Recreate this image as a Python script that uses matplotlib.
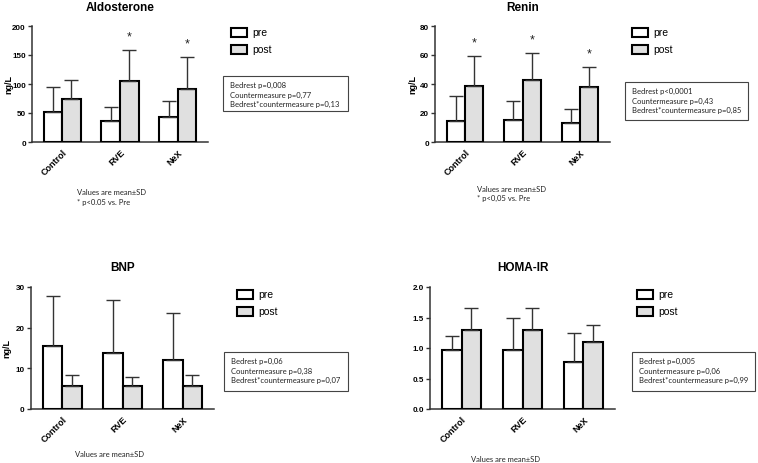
import matplotlib
matplotlib.use("Agg")
import matplotlib.pyplot as plt
from matplotlib.patches import Rectangle
import numpy as np

categories = ["Control", "RVE", "NeX"]

aldo_pre = [52, 36, 43]
aldo_pre_sd = [42, 25, 28]
aldo_post = [75, 105, 92]
aldo_post_sd = [32, 54, 55]

renin_pre = [14.6, 15.5, 12.8]
renin_pre_sd = [17.2, 12.6, 10.2]
renin_post = [38.9, 43.0, 38.0]
renin_post_sd = [20.5, 18.7, 13.9]

bnp_pre = [15.4, 13.7, 12.1]
bnp_pre_sd = [12.4, 13.1, 11.6]
bnp_post = [5.7, 5.6, 5.7]
bnp_post_sd = [2.6, 2.3, 2.6]

homa_pre = [0.96, 0.97, 0.77]
homa_pre_sd = [0.24, 0.52, 0.48]
homa_post = [1.29, 1.29, 1.10]
homa_post_sd = [0.37, 0.37, 0.28]

aldo_stars = [False, True, True]
renin_stars = [True, True, True]

aldo_stats = ["Bedrest p=0,008", "Countermeasure p=0,77", "Bedrest*countermeasure p=0,13"]
renin_stats = ["Bedrest p<0,0001", "Countermeasure p=0,43", "Bedrest*countermeasure p=0,85"]
bnp_stats = ["Bedrest p=0,06", "Countermeasure p=0,38", "Bedrest*countermeasure p=0,07"]
homa_stats = ["Bedrest p=0,005", "Countermeasure p=0,06", "Bedrest*countermeasure p=0,99"]

W, H = 758, 464
fig = plt.figure(figsize=(W / 100, H / 100), dpi=100)

BOLD = "Liberation Sans"
SMALL = "Lato"
POST_COLOR = "#e0e0e0"
AX_COLOR = "#333333"


def fx(x):
    return x / W


def fy(y):
    return 1 - y / H


def panel(box, title, pre, pre_sd, post, post_sd, ylim, yticks, yticklabels,
          stars, stats, legend_xy, stats_box, notes, notes_xy, title_y, ylabel_x):
    x0, y0, x1, y1 = box
    ax = fig.add_axes([fx(x0), fy(y1), (x1 - x0) / W, (y1 - y0) / H])
    x = np.arange(len(categories))
    bw = 0.32
    ax.bar(x - bw / 2, pre, bw, color="white", edgecolor="black", linewidth=1.5,
           yerr=[np.zeros(len(pre)), pre_sd],
           error_kw=dict(ecolor=AX_COLOR, elinewidth=1.0, capsize=5, capthick=1.0),
           zorder=3)
    ax.bar(x + bw / 2, post, bw, color=POST_COLOR, edgecolor="black", linewidth=1.5,
           yerr=[np.zeros(len(post)), post_sd],
           error_kw=dict(ecolor=AX_COLOR, elinewidth=1.0, capsize=5, capthick=1.0),
           zorder=3)
    if stars is not None:
        for i, s in enumerate(stars):
            if s:
                ax.annotate("*", (x[i] + bw / 2, post[i] + post_sd[i]),
                            xytext=(0, 5), textcoords="offset points",
                            ha="center", va="bottom", fontsize=9,
                            family=BOLD, color="#222222")
    ax.set_xlim(-0.52, 2.52)
    ax.set_ylim(*ylim)
    ax.set_yticks(yticks)
    ax.set_yticklabels(yticklabels, fontsize=5.8, family=BOLD, fontweight="bold")
    ax.set_xticks(x)
    ax.set_xticklabels(categories, rotation=45, ha="right", rotation_mode="anchor",
                       fontsize=6.5, family=BOLD, fontweight="bold")
    ax.tick_params(axis="x", length=0, pad=4)
    ax.tick_params(axis="y", length=3, width=1.0, color=AX_COLOR, pad=1.5)
    for sp in ["top", "right"]:
        ax.spines[sp].set_visible(False)
    for sp in ["left", "bottom"]:
        ax.spines[sp].set_color(AX_COLOR)
        ax.spines[sp].set_linewidth(1.1)
    if ylabel_x is not None:
        fig.text(fx(ylabel_x), fy((y0 + y1) / 2), "ng/L", rotation=90,
                 ha="center", va="center", fontsize=6.5, family=BOLD,
                 fontweight="bold")
    fig.text(fx((x0 + x1) / 2), fy(title_y), title, ha="center", va="center",
             fontsize=8.5, family=BOLD, fontweight="bold")
    # legend
    lx, ly = legend_xy
    for j, (lab, col) in enumerate([("pre", "white"), ("post", POST_COLOR)]):
        yy = ly + j * 16.5
        fig.patches.append(Rectangle((fx(lx), fy(yy + 9)), 16 / W, 9 / H,
                                     transform=fig.transFigure, facecolor=col,
                                     edgecolor="black", linewidth=1.5))
        fig.text(fx(lx + 21), fy(yy + 4.5), lab, ha="left", va="center",
                 fontsize=7.5, family=BOLD)
    # stats box
    bx0, by0, bx1, by1 = stats_box
    fig.patches.append(Rectangle((fx(bx0), fy(by1)), (bx1 - bx0) / W, (by1 - by0) / H,
                                 transform=fig.transFigure, facecolor="white",
                                 edgecolor="#444444", linewidth=0.8))
    for k, line in enumerate(stats):
        fig.text(fx(bx0 + 7), fy(by0 + 8.5 + k * 9.5), line, ha="left", va="center",
                 fontsize=5.5, family=SMALL, color="#222222")
    nx, ny = notes_xy
    for k, line in enumerate(notes):
        fig.text(fx(nx), fy(ny + k * 9.5), line, ha="left", va="center",
                 fontsize=5.5, family=SMALL, color="#222222")
    return ax


panel((32, 27, 208, 143), "Aldosterone", aldo_pre, aldo_pre_sd, aldo_post, aldo_post_sd,
      (0, 200), [0, 50, 100, 150, 200], ["0", "50", "100", "150", "200"],
      aldo_stars, aldo_stats, (231, 29), (223, 77, 348, 112),
      ["Values are mean±SD", "* p<0.05 vs. Pre"], (77, 193), 8, 8.5)

panel((435, 27, 610, 143), "Renin", renin_pre, renin_pre_sd, renin_post, renin_post_sd,
      (0, 80), [0, 20, 40, 60, 80], ["0", "20", "40", "60", "80"],
      renin_stars, renin_stats, (632, 29), (625, 83, 748, 121),
      ["Values are mean±SD", "* p<0,05 vs. Pre"], (477, 189), 8, 413)

panel((31, 288, 214, 410), "BNP", bnp_pre, bnp_pre_sd, bnp_post, bnp_post_sd,
      (0, 30), [0, 10, 20, 30], ["0", "10", "20", "30"],
      None, bnp_stats, (237, 291), (224, 353, 348, 392),
      ["Values are mean±SD"], (75, 455), 268, 7)

panel((430, 288, 615, 410), "HOMA-IR", homa_pre, homa_pre_sd, homa_post, homa_post_sd,
      (0, 2.0), [0, 0.5, 1.0, 1.5, 2.0], ["0.0", "0.5", "1.0", "1.5", "2.0"],
      None, homa_stats, (637, 291), (632, 353, 755, 392),
      ["Values are mean±SD"], (471, 460), 268, None)

fig.savefig("out.png", dpi=100)
